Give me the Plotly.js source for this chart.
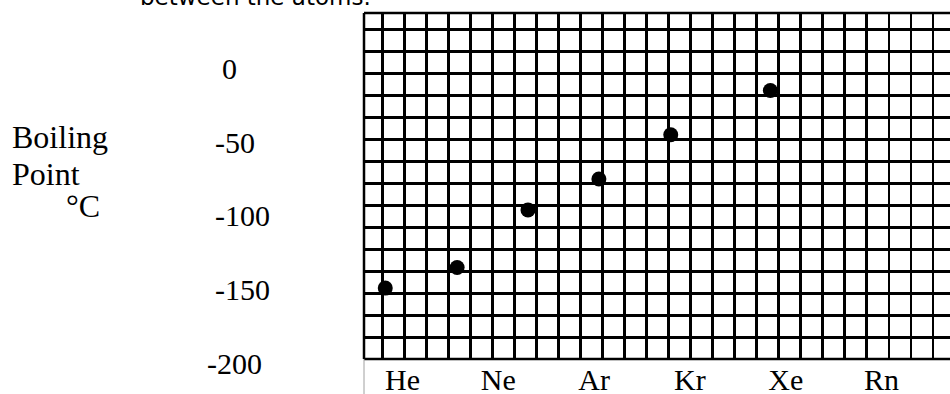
<!DOCTYPE html>
<html>
<head>
<meta charset="utf-8">
<script src="https://cdn.plot.ly/plotly-3.0.1.min.js"></script>
<style>
  html, body { margin: 0; padding: 0; background: #fff; }
  #chart { width: 950px; height: 394px; }
</style>
</head>
<body>
<div id="chart"></div>
<script>
// Noble gases along the bottom of the graph paper
const elements = ['He', 'Ne', 'Ar', 'Kr', 'Xe', 'Rn'];

// Labelled temperatures on the boiling-point scale (°C)
const tempTicks = [0, -50, -100, -150, -200];

// Plotted points: horizontal position in element-label units, boiling point in °C
const pointX = [-0.18, 0.57, 1.31, 2.05, 2.80, 3.84];
const pointY = [-149, -135, -96, -75, -45, -15];

// ---- layout constants ----
const W = 950, H = 394;
const M = { l: 364, r: 0, t: 13, b: 35 };
const plotW = W - M.l - M.r;          // 586
const plotH = H - M.t - M.b;          // 346
const serif = 'Liberation Serif, Times New Roman, serif';
const ink = '#000';

// element-label axis: 95.8 px per element, He centred 38.5 px right of the frame
const pxPerElem = 95.8, firstElemPx = 38.5;
const xRange = [-firstElemPx / pxPerElem, (plotW - firstElemPx) / pxPerElem];

// temperature axis: 0 °C sits 55.3 px below the frame top, 1.475 px per degree
const pxPerDeg = 1.475, zeroPx = 55.3;
const yRange = [-(plotH - zeroPx) / pxPerDeg, zeroPx / pxPerDeg];
// the -200 label hangs just below the paper, so labels are placed in paper units
const tempToPaper = t => (t - yRange[0]) / (yRange[1] - yRange[0]);

// graph-paper cells (22 px), first vertical rule 18.3 px in, first horizontal 16.3 px down
const cellW = 22.02, cellH = 22.0;
const gridX = [-18.3 / cellW, (plotW - 18.3) / cellW];
const gridY = [(plotH - 16.3) / cellH, -16.3 / cellH];

const rule = 2.5;

const traces = [
  {
    type: 'scatter', mode: 'markers',
    x: pointX, y: pointY,
    xaxis: 'x', yaxis: 'y',
    marker: { size: 15, color: ink },
    hoverinfo: 'skip', showlegend: false
  },
  {
    type: 'scatter', mode: 'markers',
    x: [], y: [],
    xaxis: 'x2', yaxis: 'y2',
    hoverinfo: 'skip', showlegend: false
  }
];

// temperature labels far to the left of the paper, nudged to follow the hand layout
const tickNudge = [7, 0, 0, 0, -8];
const annotations = tempTicks.map((t, i) => ({
  text: String(t),
  xref: 'paper', yref: 'paper',
  x: (213 - M.l) / plotW, y: tempToPaper(t),
  xanchor: 'left', yanchor: 'middle',
  xshift: tickNudge[i],
  showarrow: false,
  font: { family: serif, size: 30, color: ink }
}));

function pxAnno(text, px, py, opts) {
  return Object.assign({
    text: text,
    xref: 'paper', yref: 'paper',
    x: (px - M.l) / plotW, y: (plotH + M.t - py) / plotH,
    xanchor: 'left', yanchor: 'middle',
    showarrow: false,
    font: { family: serif, size: 32, color: ink }
  }, opts || {});
}

annotations.push(pxAnno('Boiling', 10, 137));
annotations.push(pxAnno('Point', 10, 174));
annotations.push(pxAnno('°C', 64, 206));
annotations.push(pxAnno('between the atoms.', 138, 12, {
  yanchor: 'bottom',
  font: { family: 'DejaVu Sans, sans-serif', size: 23, color: ink }
}));

const shapes = [
  // paper frame: top, left and bottom rules
  { type: 'line', xref: 'paper', yref: 'paper', x0: 0, x1: 1, y0: 1, y1: 1, line: { color: ink, width: rule } },
  { type: 'line', xref: 'paper', yref: 'paper', x0: 0, x1: 0, y0: 0, y1: 1, line: { color: ink, width: rule } },
  { type: 'line', xref: 'paper', yref: 'paper', x0: 0, x1: 1, y0: 0, y1: 0, line: { color: ink, width: rule } },
  // thin axis line continuing under the paper
  { type: 'line', xref: 'paper', yref: 'paper', x0: 0, x1: 0, y0: -M.b / plotH, y1: 0, line: { color: '#a0a0a0', width: 1 } }
];

const layout = {
  width: W, height: H,
  margin: M,
  paper_bgcolor: '#fff', plot_bgcolor: '#fff',
  showlegend: false,
  xaxis: {
    range: xRange, showgrid: false, zeroline: false, showline: false,
    tickmode: 'array', tickvals: elements.map((_, i) => i), ticktext: elements,
    ticks: '', ticklabelstandoff: 0,
    tickfont: { family: serif, size: 30, color: ink },
    fixedrange: true
  },
  yaxis: {
    range: yRange, showgrid: false, zeroline: false, showline: false,
    showticklabels: false, ticks: '', fixedrange: true
  },
  xaxis2: {
    overlaying: 'x', anchor: 'y2', side: 'bottom',
    range: gridX, tick0: 0, dtick: 1,
    showgrid: true, gridcolor: ink, gridwidth: rule,
    zeroline: false, showline: false, showticklabels: false, ticks: '',
    fixedrange: true
  },
  yaxis2: {
    overlaying: 'y', anchor: 'x2', side: 'left',
    range: gridY, tick0: 0, dtick: 1,
    showgrid: true, gridcolor: ink, gridwidth: rule,
    zeroline: false, showline: false, showticklabels: false, ticks: '',
    fixedrange: true
  },
  annotations: annotations,
  shapes: shapes
};

Plotly.newPlot('chart', traces, layout, { staticPlot: true, displayModeBar: false });
</script>
</body>
</html>
